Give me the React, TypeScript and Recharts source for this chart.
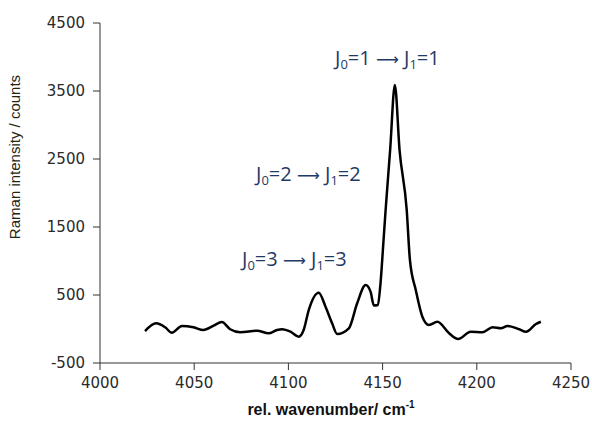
import React from 'react';
import { LineChart, Line, XAxis, YAxis } from 'recharts';

const wavenumber = [
  4023.9, 4029.8, 4034.6, 4038.1, 4043.5, 4049.6, 4054.9, 4060.3, 4064.7, 4069.1,
  4074.5, 4083.4, 4089.5, 4094.0, 4096.6, 4101.1, 4105.5, 4108.1, 4110.8, 4116.1,
  4119.7, 4123.2, 4125.9, 4132.1, 4136.5, 4141.0, 4143.6, 4145.4, 4147.5, 4148.9,
  4150.4, 4151.6, 4154.0, 4156.5, 4159.0, 4162.8, 4164.5, 4167.6, 4171.1, 4174.6,
  4179.1, 4185.3, 4190.1, 4196.8, 4203.0, 4208.4, 4212.8, 4216.3, 4222.5, 4226.1,
  4231.4, 4234.0,
];
const intensity = [
  -30, 84, 25, -54, 44, 25, -15, 49, 103, -4,
  -49, -25, -63, -15, -4, -40, -113, -15, 279, 534,
  328, 84, -74, 10, 378, 647, 549, 346, 353, 676,
  1265, 1750, 2632, 3588, 2632, 1750, 1015, 574, 181, 59,
  107, -63, -147, -40, -48, 25, 10, 44, -4, -40,
  73, 107,
];

const xTicks = [4000, 4050, 4100, 4150, 4200, 4250];
const yTicks = [-500, 500, 1500, 2500, 3500, 4500];

const annotations = [
  { lo: '1', hi: '1', x: 335, y: 65 },
  { lo: '2', hi: '2', x: 256, y: 181 },
  { lo: '3', hi: '3', x: 242, y: 266 },
];

const data = wavenumber.map((w, i) => ({ w, v: intensity[i] }));

const annColor = '#1f3a63';

function Transition({ lo, hi, x, y }: { lo: string; hi: string; x: number; y: number }) {
  return (
    <text x={x} y={y} fill={annColor} fontFamily="'Open Sans', sans-serif" fontSize={20} fontWeight={500}>
      J<tspan fontSize={13} dy={4}>0</tspan>
      <tspan dy={-4}>={lo}{'\u00A0'}</tspan>
      <tspan fontFamily="'DejaVu Sans', sans-serif" fontSize={16} fontWeight={400}>{'\u27F6'}</tspan>
      <tspan>{'\u00A0'}J</tspan>
      <tspan fontSize={13} dy={4}>1</tspan>
      <tspan dy={-4}>={hi}</tspan>
    </text>
  );
}

export default function App() {
  const tickStyle = { fill: '#2a2a2a', fontSize: 15, fontFamily: "'DejaVu Sans', sans-serif" };
  return (
    <div style={{ position: 'absolute', left: 0, top: 0, width: 592, height: 432, background: '#fff' }}>
      <LineChart width={592} height={432} data={data} margin={{ top: 23, right: 21, bottom: 0, left: 0 }}>
        <XAxis
          dataKey="w"
          type="number"
          domain={[4000, 4250]}
          ticks={xTicks}
          tickSize={7}
          tickMargin={7}
          height={69}
          stroke="#333"
          tick={tickStyle}
        />
        <YAxis
          type="number"
          domain={[-500, 4500]}
          ticks={yTicks}
          tickSize={7}
          tickMargin={8}
          width={100}
          stroke="#333"
          tick={tickStyle}
        />
        <Line
          type="monotone"
          dataKey="v"
          stroke="#000"
          strokeWidth={2.5}
          dot={false}
          isAnimationActive={false}
        />
        {annotations.map((a) => (
          <Transition key={a.lo} {...a} />
        ))}
        <text
          x={331}
          y={415}
          textAnchor="middle"
          fontFamily="'Liberation Sans', Arial, sans-serif"
          fontWeight="bold"
          fontSize={16}
          fill="#111"
        >
          rel. wavenumber/ cm<tspan fontSize={10} dy={-7}>-1</tspan>
        </text>
        <text
          x={20}
          y={157}
          transform="rotate(-90 20 157)"
          textAnchor="middle"
          fontFamily="'Liberation Sans', Arial, sans-serif"
          fontSize={15}
          fill="#262610"
        >
          Raman intensity / counts
        </text>
      </LineChart>
    </div>
  );
}
